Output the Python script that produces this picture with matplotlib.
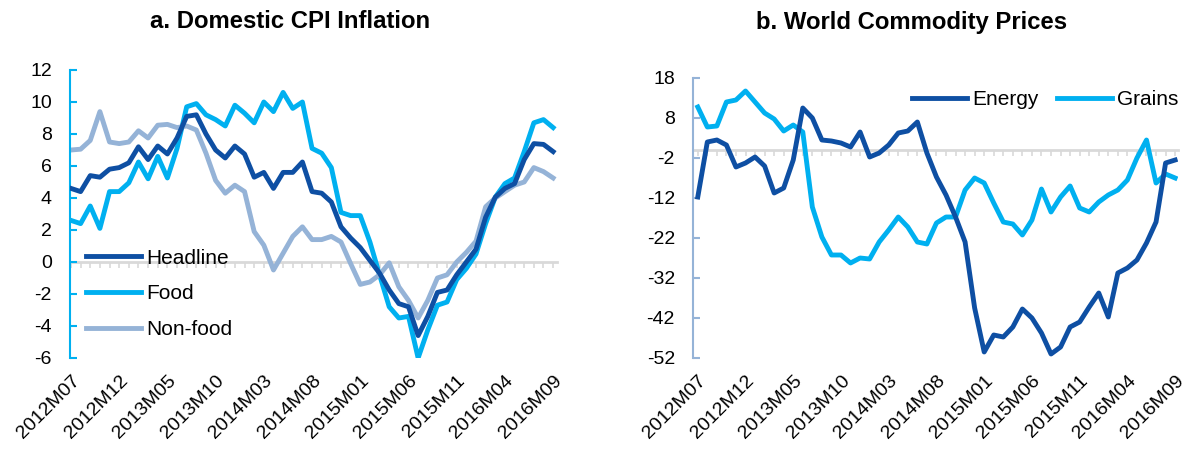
import matplotlib
matplotlib.use("Agg")
import matplotlib.pyplot as plt
import numpy as np

plt.rcParams["font.family"] = ["Liberation Sans", "DejaVu Sans"]
plt.rcParams["axes.unicode_minus"] = False

# monthly data, 2012M07 .. 2016M09
tick_labels = ["2012M07", "2012M12", "2013M05", "2013M10", "2014M03", "2014M08",
               "2015M01", "2015M06", "2015M11", "2016M04", "2016M09"]

headline = [4.6, 4.4, 5.4, 5.3, 5.8, 5.9, 6.2, 7.2, 6.4, 7.25,
            6.75, 7.75, 9.1, 9.2, 8.0, 7.0, 6.5, 7.25, 6.75, 5.3,
            5.6, 4.6, 5.6, 5.6, 6.25, 4.4, 4.3, 3.75, 2.2, 1.5,
            0.9, 0.1, -0.7, -1.75, -2.6, -2.8, -4.6, -3.4, -1.9, -1.75,
            -0.8, 0.0, 0.8, 2.8, 4.05, 4.6, 4.9, 6.4, 7.4, 7.35, 6.9]
food = [2.6, 2.4, 3.5, 2.1, 4.4, 4.4, 4.95, 6.25, 5.2, 6.6,
        5.25, 7.1, 9.7, 9.9, 9.2, 8.9, 8.5, 9.8, 9.3, 8.7,
        10.0, 9.4, 10.6, 9.6, 10.0, 7.1, 6.8, 5.9, 3.1, 2.9,
        2.9, 1.25, -0.8, -2.8, -3.5, -3.4, -6.0, -4.25, -2.7, -2.5,
        -1.1, -0.4, 0.5, 2.4, 4.05, 4.9, 5.25, 6.9, 8.7, 8.9, 8.4]
nonfood = [7.0, 7.05, 7.6, 9.4, 7.5, 7.4, 7.5, 8.2, 7.75, 8.55,
           8.6, 8.4, 8.5, 8.25, 6.8, 5.1, 4.3, 4.8, 4.4, 1.9,
           1.05, -0.5, 0.55, 1.6, 2.2, 1.4, 1.4, 1.6, 1.25, -0.1,
           -1.4, -1.25, -0.8, -0.05, -1.55, -2.4, -3.5, -2.4, -1.0, -0.8,
           0.0, 0.6, 1.3, 3.45, 4.0, 4.4, 4.8, 5.0, 5.9, 5.65, 5.25]

energy = [-11.75, 2.0, 2.5, 1.25, -4.25, -3.25, -1.75, -4.0, -10.75, -9.5,
          -2.5, 10.5, 8.0, 2.5, 2.25, 1.75, 0.75, 4.5, -1.75, -0.75,
          1.25, 4.25, 4.75, 7.0, -0.75, -6.75, -11.25, -16.75, -23.0, -39.5,
          -50.5, -46.25, -46.75, -44.25, -39.75, -42.0, -45.75, -51.0, -49.25, -44.25,
          -43.0, -39.25, -35.75, -41.75, -30.75, -29.5, -27.5, -23.25, -18.0, -3.25, -2.5]
grains = [10.75, 5.75, 6.0, 12.0, 12.5, 14.75, 12.0, 9.25, 7.75, 4.75,
          6.25, 4.5, -14.25, -21.75, -26.25, -26.25, -28.25, -27.0, -27.25, -23.0,
          -20.0, -16.75, -19.25, -23.0, -23.5, -18.25, -16.75, -16.75, -10.0, -7.0,
          -8.25, -13.25, -18.0, -18.5, -21.25, -17.5, -9.75, -15.5, -11.75, -9.0,
          -14.5, -15.5, -13.0, -11.25, -10.0, -7.5, -2.0, 2.5, -8.25, -6.0, -7.0]

DARK = "#0E4FA3"
CYAN = "#00B0F0"
LIGHT = "#95B3D7"
GRID = "#D9D9D9"

W, H = 1185, 453
fig = plt.figure(figsize=(W / 100, H / 100), dpi=100)


def style_axis(ax, axcolor, yticks):
    x = np.arange(len(headline))
    ax.spines["top"].set_visible(False)
    ax.spines["right"].set_visible(False)
    ax.spines["left"].set_color(axcolor)
    ax.spines["left"].set_linewidth(1.5)
    ax.spines["bottom"].set_position(("data", 0))
    ax.spines["bottom"].set_color(GRID)
    ax.spines["bottom"].set_linewidth(2)
    ax.spines["bottom"].set_zorder(0.5)
    ax.set_yticks(yticks)
    ax.tick_params(axis="y", direction="in", length=5, width=1.5,
                   color=axcolor, pad=13, labelsize=14)
    ax.set_xticks(x)
    ax.tick_params(axis="x", direction="out", length=4, width=1.2,
                   color=GRID, labelbottom=False)
    sec = ax.secondary_xaxis(0)
    sec.spines["bottom"].set_visible(False)
    sec.set_xticks(np.arange(0, len(x), 5), labels=tick_labels)
    sec.tick_params(length=0, pad=10, labelsize=14)
    for lab in sec.get_xticklabels():
        lab.set_rotation(45)
        lab.set_ha("right")
        lab.set_va("top")
        lab.set_rotation_mode("anchor")


# ---- panel a
ax1 = fig.add_axes([70 / W, 1 - 358 / H, 487 / W, 288 / H])
x = np.arange(len(headline))
ax1.plot(x, headline, color=DARK, lw=3.5, label="Headline", zorder=3)
ax1.plot(x, food, color=CYAN, lw=3.5, label="Food", zorder=2)
ax1.plot(x, nonfood, color=LIGHT, lw=3.5, label="Non-food", zorder=2.5)
ax1.set_xlim(-0.1, 50.4)
ax1.set_ylim(-6, 12)
style_axis(ax1, CYAN, np.arange(-6, 13, 2))
ax1.legend(loc="upper left", bbox_to_anchor=(86 / W, 1 - 248.5 / H),
           bbox_transform=fig.transFigure, frameon=False, fontsize=15,
           handlelength=2.65, handletextpad=0.25, labelspacing=0.8,
           borderpad=0, borderaxespad=0)
fig.text(290 / W, 1 - 22 / H, "a. Domestic CPI Inflation", ha="center",
         va="center", fontsize=17.2, fontweight="bold")

# ---- panel b
ax2 = fig.add_axes([693 / W, 1 - 358 / H, 485 / W, 280 / H])
ax2.plot(x, energy, color=DARK, lw=3.5, label="Energy", zorder=3)
ax2.plot(x, grains, color=CYAN, lw=3.5, label="Grains", zorder=2)
ax2.set_xlim(-0.5, 50.3)
ax2.set_ylim(-52, 18)
style_axis(ax2, LIGHT, np.arange(-52, 19, 10))
ax2.legend(loc="upper left", bbox_to_anchor=(912 / W, 1 - 90 / H),
           bbox_transform=fig.transFigure, frameon=False, fontsize=15,
           ncol=2, handlelength=2.65, handletextpad=0.25, columnspacing=0.85,
           borderpad=0, borderaxespad=0)
fig.text(912 / W, 1 - 22 / H, "b. World Commodity Prices", ha="center",
         va="center", fontsize=17.2, fontweight="bold")

fig.savefig("out.png", dpi=100)
